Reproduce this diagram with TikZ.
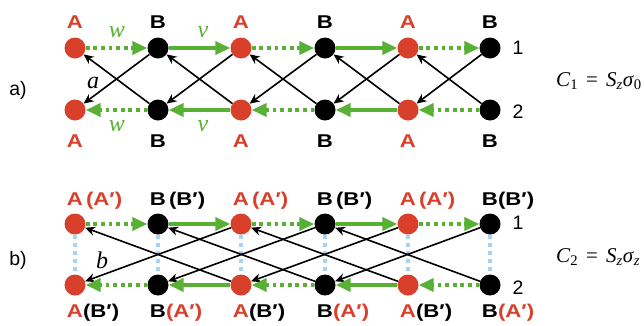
\documentclass[tikz,border=0pt]{standalone}
\usepackage{fontspec}
\setmainfont{Liberation Sans}
\newfontfamily\serif{Liberation Serif}
\newfontfamily\widesans[FakeStretch=1.2]{Liberation Sans}
\usetikzlibrary{arrows.meta}
\definecolor{nodered}{RGB}{217,64,43}
\definecolor{hopgreen}{RGB}{88,176,52}
\definecolor{pairblue}{RGB}{168,210,246}
\tikzset{
  site/.style={circle, minimum size=21pt, inner sep=0pt},
  siteA/.style={site, fill=nodered},
  siteB/.style={site, fill=black},
  hopv/.style={draw=hopgreen, line width=4pt, -{Triangle[length=15pt,width=13pt,fill=hopgreen]}},
  hopw/.style={hopv, line width=3.8pt, dash pattern=on 3.8pt off 3.8pt},
  cross/.style={draw=black, line width=1.6pt, -{Stealth[length=10pt,width=9pt]}},
  rung/.style={draw=pairblue, line width=4pt, dash pattern=on 4pt off 4pt},
  lab/.style={font=\widesans\fontsize{18.5}{20}\selectfont\bfseries, inner sep=0pt, anchor=base},
  num/.style={font=\fontsize{19.5}{21}\selectfont, inner sep=0pt},
  coef/.style={font=\serif\itshape\fontsize{24}{26}\selectfont, inner sep=0pt, anchor=base},
  formula/.style={font=\serif\fontsize{21}{23}\selectfont, inner sep=0pt, anchor=base west},
}
\newcommand{\eqgap}{\hspace{0.38em}}
\begin{document}
\begin{tikzpicture}[x=1pt, y=-1pt]
\useasboundingbox (0,0) rectangle (644,325);

% ---------- panel a) ----------
\node[siteA] (t1) at (75,48) {};
\node[siteB] (t2) at (158,48) {};
\node[siteA] (t3) at (241,48) {};
\node[siteB] (t4) at (325,48) {};
\node[siteA] (t5) at (408,48) {};
\node[siteB] (t6) at (490,48) {};
\node[siteA] (u1) at (75,110) {};
\node[siteB] (u2) at (158,110) {};
\node[siteA] (u3) at (241,110) {};
\node[siteB] (u4) at (325,110) {};
\node[siteA] (u5) at (408,110) {};
\node[siteB] (u6) at (490,110) {};

\foreach \r/\l in {2/1,3/2,4/3,5/4,6/5}{
  \draw[cross] (t\r) -- (u\l);
  \draw[cross] (u\r) -- (t\l);
}
\draw[hopw] (t1) -- (t2);
\draw[hopv] (t2) -- (t3);
\draw[hopw] (t3) -- (t4);
\draw[hopv] (t4) -- (t5);
\draw[hopw] (t5) -- (t6);
\draw[hopw] (u2) -- (u1);
\draw[hopv] (u3) -- (u2);
\draw[hopw] (u4) -- (u3);
\draw[hopv] (u5) -- (u4);
\draw[hopw] (u6) -- (u5);

\foreach \x/\s/\c in {75/A/nodered,158/B/black,241/A/nodered,325/B/black,408/A/nodered,490/B/black}{
  \node[lab, text=\c] at (\x,28) {\s};
  \node[lab, text=\c] at (\x,147) {\s};
}
\node[coef, text=hopgreen] (w1) at (117,37) {w};
\node[coef, text=hopgreen] (v1) at (203,37) {v};
\node[coef, text=hopgreen] (w2) at (117,131) {w};
\node[coef, text=hopgreen] (v2) at (203,131) {v};
\node[coef] (alab) at (93,88) {a};
\node[num] (one1) at (518,48) {1};
\node[num] (two1) at (518,112) {2};
\node[num] (pa) at (18,90) {a)};
\node[formula] (c1) at (556,86) {\textit{C}\textsubscript{1}\eqgap=\eqgap\textit{S}\textsubscript{\textit{z}}\textit{σ}\textsubscript{0}};

% ---------- panel b) ----------
\node[siteA] (p1) at (75,224) {};
\node[siteB] (p2) at (158,224) {};
\node[siteA] (p3) at (241,224) {};
\node[siteB] (p4) at (325,224) {};
\node[siteA] (p5) at (408,224) {};
\node[siteB] (p6) at (490,224) {};
\node[siteA] (q1) at (75,285) {};
\node[siteB] (q2) at (158,285) {};
\node[siteA] (q3) at (241,285) {};
\node[siteB] (q4) at (325,285) {};
\node[siteA] (q5) at (408,285) {};
\node[siteB] (q6) at (490,285) {};

\foreach \i in {1,...,6}{
  \draw[rung] (p\i) -- (q\i);
}
\foreach \r/\l in {3/1,4/2,5/3,6/4}{
  \draw[cross] (p\r) -- (q\l);
  \draw[cross] (q\r) -- (p\l);
}
\draw[hopw] (p1) -- (p2);
\draw[hopv] (p2) -- (p3);
\draw[hopw] (p3) -- (p4);
\draw[hopv] (p4) -- (p5);
\draw[hopw] (p5) -- (p6);
\draw[hopw] (q2) -- (q1);
\draw[hopv] (q3) -- (q2);
\draw[hopw] (q4) -- (q3);
\draw[hopv] (q5) -- (q4);
\draw[hopw] (q6) -- (q5);

\foreach \x in {75,241,408}{
  \node[lab, text=nodered] at (\x,205) {A\rlap{\,(A′)}};
  \node[lab] at (\x,317) {\textcolor{nodered}{A}\rlap{(B′)}};
}
\foreach \x in {158,325}{
  \node[lab] at (\x,205) {B\rlap{\,(B′)}};
  \node[lab] at (\x,317) {B\rlap{\textcolor{nodered}{(A′)}}};
}
\node[lab] at (490,205) {B\rlap{(B′)}};
\node[lab] at (490,317) {B\rlap{\textcolor{nodered}{(A′)}}};

\node[coef] (blab) at (102,268) {b};
\node[num] (one2) at (518,223) {1};
\node[num] (two2) at (518,288) {2};
\node[num] (pb) at (18,260) {b)};
\node[formula] (c2) at (556,262) {\textit{C}\textsubscript{2}\eqgap=\eqgap\textit{S}\textsubscript{\textit{z}}\textit{σ}\textsubscript{\textit{z}}};
\end{tikzpicture}
\end{document}
